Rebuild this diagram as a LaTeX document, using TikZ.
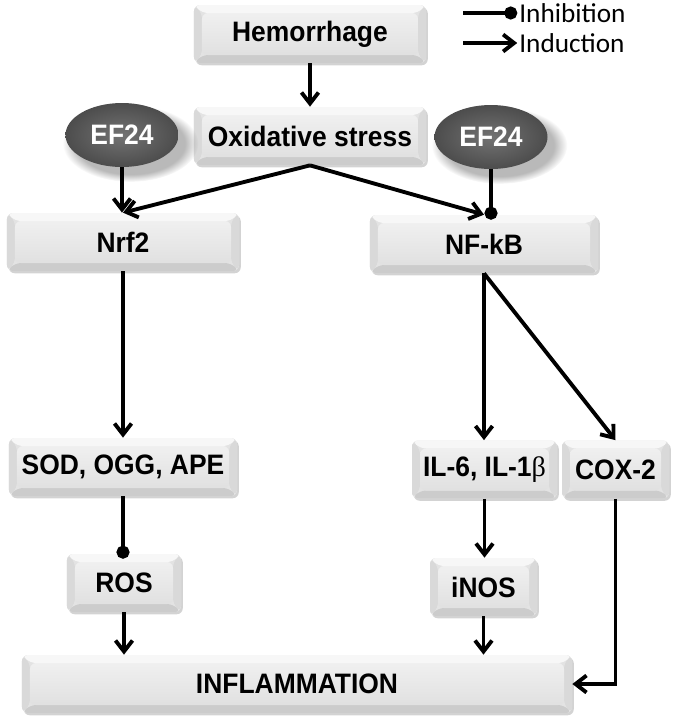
\documentclass[tikz,border=0pt]{standalone}
\usepackage{fontspec}
\setmainfont[FakeStretch=0.94]{Liberation Sans}
\newfontfamily\legfont{Carlito}
\newfontfamily\grfont{Liberation Serif}
\usetikzlibrary{arrows.meta,shapes.geometric,shadows,fadings}
\newcommand\boxfont{\fontsize{16}{19}\selectfont\bfseries}
\tikzset{
	bev/.style={rounded corners=1.2mm, minimum height=11.6mm, inner sep=0pt, font=\boxfont,
		fill=gray!22, drop shadow={shadow xshift=1pt, shadow yshift=-1.3pt, opacity=.35},
		path picture={
			\path (path picture bounding box.north west) coordinate (bA)
				(path picture bounding box.north east) coordinate (bB)
				(path picture bounding box.south east) coordinate (bC)
				(path picture bounding box.south west) coordinate (bD);
			\fill[gray!30] (bA) -- ([shift={(1.6mm,-1.6mm)}]bA) -- ([shift={(1.6mm,1.6mm)}]bD) -- (bD) -- cycle;
			\fill[gray!30] (bB) -- ([shift={(-1.6mm,-1.6mm)}]bB) -- ([shift={(-1.6mm,1.6mm)}]bC) -- (bC) -- cycle;
			\fill[gray!6] (bA) -- (bB) -- ([shift={(-1.6mm,-1.6mm)}]bB) -- ([shift={(1.6mm,-1.6mm)}]bA) -- cycle;
			\fill[gray!40] (bD) -- (bC) -- ([shift={(-1.6mm,1.6mm)}]bC) -- ([shift={(1.6mm,1.6mm)}]bD) -- cycle;
			\shade[top color=gray!12, bottom color=gray!24] ([shift={(1.6mm,-1.6mm)}]bA) rectangle ([shift={(-1.6mm,1.6mm)}]bC);
		}},
	ef/.style={ellipse, minimum width=22.6mm, minimum height=12.8mm, inner sep=0pt, font=\boxfont,
		text=white, inner color=black!55, outer color=black!70,
		circular drop shadow={shadow scale=1.2, shadow xshift=4pt, shadow yshift=-4pt, opacity=.55,
			path fading={circle with fuzzy edge 20 percent}}},
	legtxt/.style={anchor=west, inner sep=0pt, font=\legfont\fontsize{15.5}{18}\selectfont},
	ind/.style={line width=2.2pt, -{Straight Barb[length=2.2mm,width=3.4mm]}},
	inh/.style={line width=2.2pt, -{Circle[length=2.6mm]}, shorten >=-1mm}
}
\begin{document}
\begin{tikzpicture}[x=0.2mm,y=-0.2mm]
	\useasboundingbox (0,0) rectangle (677,722);
	\node[bev, minimum width=46.4mm] (hem) at (310,34) {Hemorrhage};
	\node[bev, minimum width=46.4mm] (ox) at (310,136) {Oxidative stress};
	\node[ef] (efl) at (122,135) {EF24};
	\node[ef] (efr) at (491,137) {EF24};
	\node[bev, minimum width=46.4mm] (nrf) at (123,242) {Nrf2};
	\node[bev, minimum width=45.6mm] (nfkb) at (484,244) {NF-kB};
	\node[bev, minimum width=45.6mm] (sod) at (123,467) {SOD, OGG, APE};
	\node[bev, minimum width=22.8mm] (ros) at (124,583) {ROS};
	\node[bev, minimum width=29mm] (il) at (484.5,469.5) {IL-6, IL-1{\grfont\mdseries β}};
	\node[bev, minimum width=21.4mm] (cox) at (615.5,469.5) {COX-2};
	\node[bev, minimum width=21.4mm] (inos) at (483.5,587) {iNOS};
	\node[bev, minimum width=110mm] (infl) at (297,684) {INFLAMMATION};

	\coordinate (li) at (463,13);
	\coordinate (la) at (463,43);
	\node[legtxt] (inhtxt) at (519,13) {Inhibition};
	\node[legtxt] (indtxt) at (519,43) {Induction};
	\draw[inh, shorten >=1pt] (li) -- (inhtxt.west);
	\draw[ind, shorten >=1pt] (la) -- (indtxt.west);

	\draw[ind] (hem) -- (ox);
	\draw[ind] (ox.south) -- (nrf.north);
	\draw[ind] (ox.south) -- (nfkb.north);
	\draw[ind] (efl.south) -- (efl.south |- nrf.north);
	\draw[inh] (efr.south) -- (efr.south |- nfkb.north);
	\draw[ind] (nrf) -- (sod);
	\draw[inh] (sod.south) -- (sod.south |- ros.north);
	\draw[ind] (ros.south) -- (ros.south |- infl.north);
	\draw[ind] (nfkb.south) -- (nfkb.south |- il.north);
	\draw[ind] (nfkb.south) -- (cox.north);
	\draw[ind] (il.south) -- (il.south |- inos.north);
	\draw[ind] (inos.south) -- (inos.south |- infl.north);
	\draw[ind] (cox.south) |- (infl.east);
\end{tikzpicture}
\end{document}
